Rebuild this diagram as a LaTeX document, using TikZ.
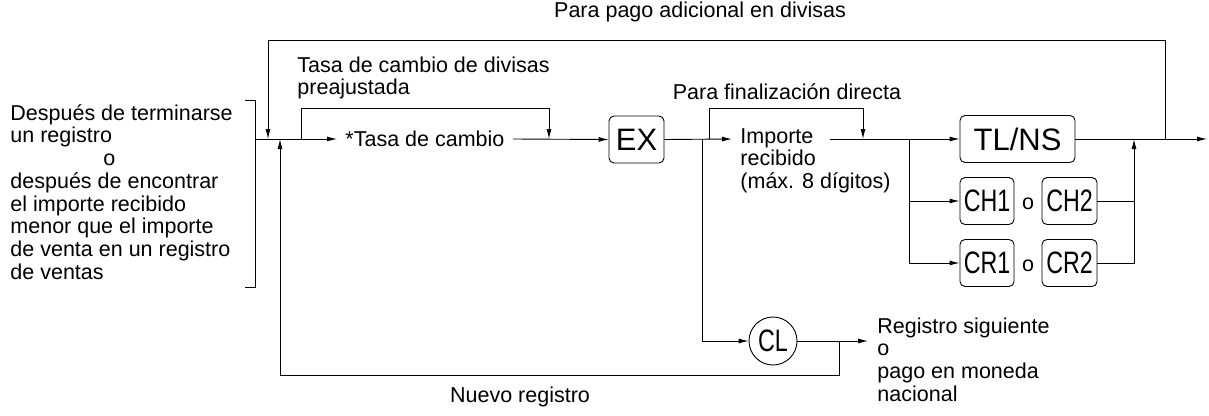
\documentclass[tikz,border=0pt]{standalone}
\usepackage{fontspec}
\setmainfont{Liberation Sans}
\usetikzlibrary{arrows.meta,positioning}
\newcommand{\narrowkey}[1]{\scalebox{0.75}[1]{#1}}
\tikzset{
  flow/.style={-{Latex[length=10pt,width=5pt]}},
  keybox/.style={draw,rounded corners=5pt,font=\fontsize{31}{31}\selectfont,inner sep=0pt,minimum height=47pt},
  lbl/.style={font=\fontsize{21.5}{22.7}\selectfont,inner sep=0pt},
}
\begin{document}
\begin{tikzpicture}[x=1pt,y=-1pt,line width=0.9pt]
 \useasboundingbox (0,0) rectangle (1209,415);

 % texto inicial y corchete
 \node[lbl,anchor=north west,align=left] (start) at (10,104) {Después de terminarse\\un registro\\\hspace*{93pt}o\\después de encontrar\\el importe recibido\\menor que el importe\\de venta en un registro\\de ventas};
 \draw (245,100)--(255,100)--(255,287)--(245,287);

 % nodos
 \node[lbl,anchor=west,inner xsep=8pt] (tasa) at (337,139) {*Tasa de cambio};
 \node[keybox,minimum width=55pt] (ex) at (636.5,139.5) {EX};
 \node[lbl,anchor=north west,align=left] (imp) at (740,128) {Importe\\recibido\\(máx. 8 dígitos)};
 \node[keybox,minimum width=115pt] (tlns) at (1017.5,139) {TL/NS};
 \node[keybox,minimum width=54pt] (ch1) at (987,201) {\narrowkey{CH1}};
 \node[lbl] (o1) at (1028,204) {o};
 \node[keybox,minimum width=55pt] (ch2) at (1069.5,201) {\narrowkey{CH2}};
 \node[keybox,minimum width=54pt] (cr1) at (987,263) {\narrowkey{CR1}};
 \node[lbl] (o2) at (1028,266) {o};
 \node[keybox,minimum width=55pt] (cr2) at (1069.5,263) {\narrowkey{CR2}};
 \node[draw,circle,inner sep=0pt,minimum size=48pt,font=\fontsize{31}{31}\selectfont] (cl) at (773,341) {\narrowkey{CL}};
 \node[lbl,anchor=north west,align=left] (sig) at (877,317) {Registro siguiente\\o\\pago en moneda\\nacional};

 % etiquetas
 \node[lbl] (pago) at (700,12) {Para pago adicional en divisas};
 \node[lbl,anchor=west,align=left] (pre) at (297,78) {Tasa de cambio de divisas\\preajustada};
 \node[lbl] (fin) at (787,92) {Para finalización directa};
 \node[lbl] (nuevo) at (520,397) {Nuevo registro};

 % conectores
 \coordinate (in) at (255,139);
 \draw[flow] (in) -- (tasa.west);
 \draw[flow] (tasa.east) -- (ex.west);
 \draw[flow] (301,139) -- (301,108) -- (549,108) -- (549,139);
 \draw[flow] (ex.east) -- (732,139);
 \draw[flow] (709,139) -- (709,108) -- (863,108) -- (863,139);
 \draw[flow] (702,139) |- (cl.west);
 \draw (830,139) -- (909,139);
 \draw[flow] (909,139) -- (tlns.west);
 \draw[flow] (909,139) |- (ch1.west);
 \draw[flow] (909,139) |- (cr1.west);
 \draw[flow] (tlns.east) -- (1207,139);
 \draw (ch2.east) -- (1134,201);
 \draw[flow] (cr2.east) -| (1134,139);
 \draw[flow] (1165,139) -- (1165,40) -- (268,40) -- (268,139);
 \draw[flow] (cl.east) -- (868,341);
 \draw[flow] (839,341) -- (839,375) -- (280,375) -- (280,139);

\end{tikzpicture}
\end{document}
